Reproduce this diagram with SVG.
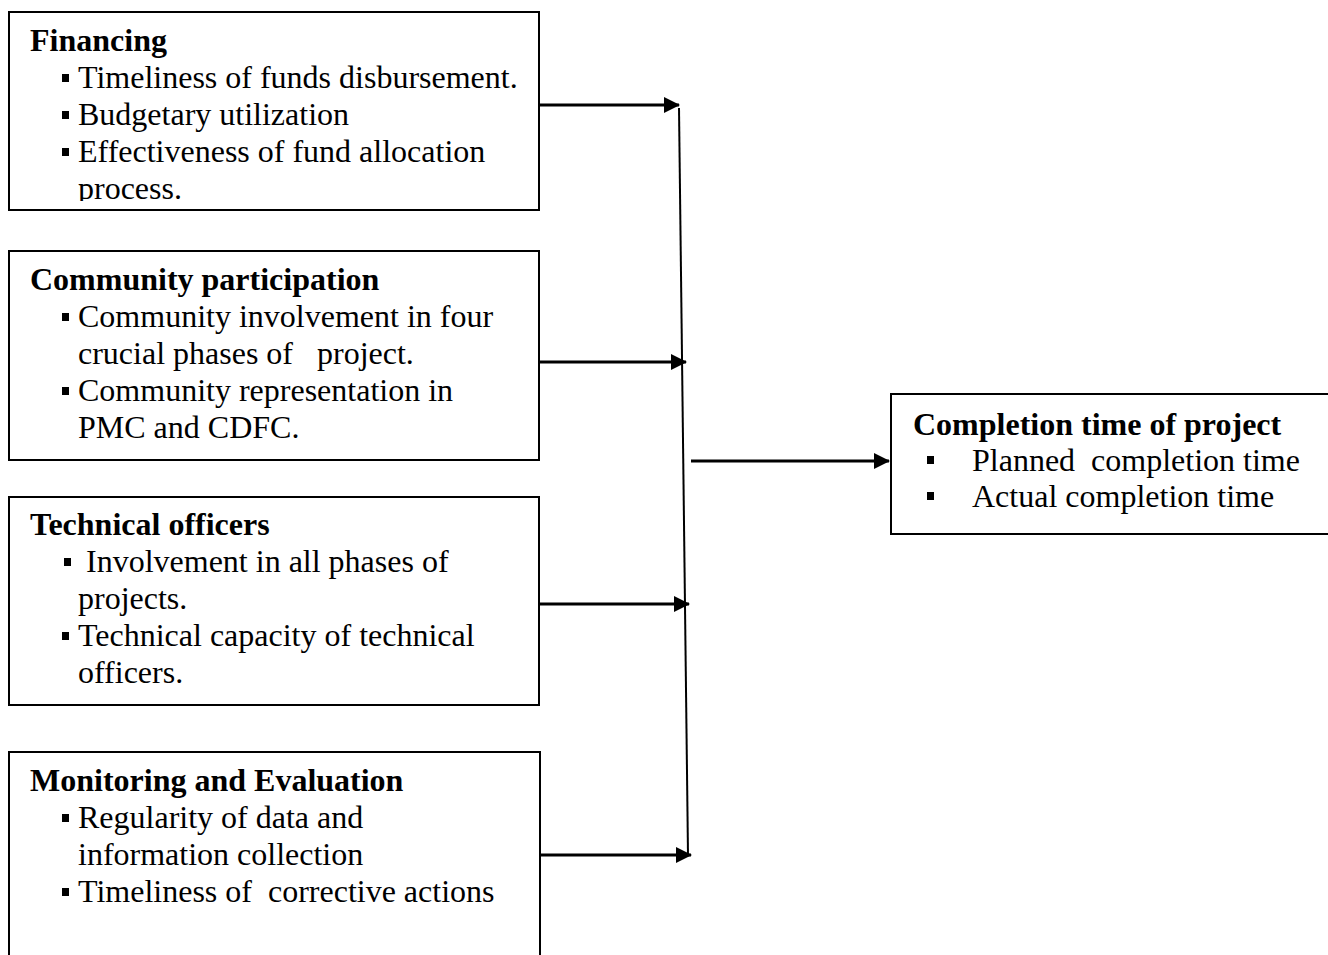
<svg xmlns="http://www.w3.org/2000/svg" width="1328" height="955" viewBox="0 0 1328 955">
<style>
text{font-family:"Liberation Serif","Times New Roman",serif;font-size:32px;fill:#000}
.h{font-weight:bold}
.box{fill:#fff;stroke:#000;stroke-width:2}
.b{fill:#000}
.c{stroke:#000;stroke-width:3;fill:none}
</style>
<defs>
<marker id="ah" markerWidth="16" markerHeight="16" refX="15" refY="8" orient="auto" markerUnits="userSpaceOnUse">
<path d="M0,0 L16,8 L0,16 Z" fill="#000"/>
</marker>
<clipPath id="clip1"><rect x="0" y="0" width="600" height="201"/></clipPath>
</defs>
<rect width="1328" height="955" fill="#fff"/>
<g id="financing">
<rect class="box" x="9" y="12" width="530" height="198"/>
<text class="h" x="30" y="51">Financing</text>
<rect class="b" x="62" y="74" width="7" height="8"/>
<text x="78" y="88">Timeliness of funds disbursement.</text>
<rect class="b" x="62" y="111" width="7" height="8"/>
<text x="78" y="125">Budgetary utilization</text>
<rect class="b" x="62" y="148" width="7" height="8"/>
<text x="78" y="162">Effectiveness of fund allocation</text>
<text x="78" y="199" clip-path="url(#clip1)">process.</text>
</g>
<g id="community">
<rect class="box" x="9" y="251" width="530" height="209"/>
<text class="h" x="30" y="290">Community participation</text>
<rect class="b" x="62" y="313" width="7" height="8"/>
<text x="78" y="327">Community involvement in four</text>
<text x="78" y="364" xml:space="preserve">crucial phases of   project.</text>
<rect class="b" x="62" y="387" width="7" height="8"/>
<text x="78" y="401">Community representation in</text>
<text x="78" y="438">PMC and CDFC.</text>
</g>
<g id="technical">
<rect class="box" x="9" y="497" width="530" height="208"/>
<text class="h" x="30" y="535">Technical officers</text>
<rect class="b" x="64" y="558" width="7" height="8"/>
<text x="86" y="572">Involvement in all phases of</text>
<text x="78" y="609">projects.</text>
<rect class="b" x="62" y="632" width="7" height="8"/>
<text x="78" y="646">Technical capacity of technical</text>
<text x="78" y="683">officers.</text>
</g>
<g id="monitoring">
<rect class="box" x="9" y="752" width="531" height="220"/>
<text class="h" x="30" y="791">Monitoring and Evaluation</text>
<rect class="b" x="62" y="814" width="7" height="8"/>
<text x="78" y="828">Regularity of data and</text>
<text x="78" y="865">information collection</text>
<rect class="b" x="62" y="888" width="7" height="8"/>
<text x="78" y="902" xml:space="preserve">Timeliness of  corrective actions</text>
</g>
<g id="completion">
<rect class="box" x="891" y="394" width="450" height="140"/>
<text class="h" x="913" y="435">Completion time of project</text>
<rect class="b" x="927" y="456" width="7" height="8"/>
<text x="972" y="471" xml:space="preserve">Planned  completion time</text>
<rect class="b" x="927" y="492" width="7" height="8"/>
<text x="972" y="507">Actual completion time</text>
</g>
<g id="connectors">
<line class="c" x1="679" y1="108" x2="688" y2="855" style="stroke-width:2"/>
<line class="c" x1="539" y1="105" x2="679" y2="105" marker-end="url(#ah)"/>
<line class="c" x1="539" y1="362" x2="686" y2="362" marker-end="url(#ah)"/>
<line class="c" x1="539" y1="604" x2="689" y2="604" marker-end="url(#ah)"/>
<line class="c" x1="540" y1="855" x2="691" y2="855" marker-end="url(#ah)"/>
<line class="c" x1="691" y1="461" x2="889" y2="461" marker-end="url(#ah)"/>
</g>
</svg>
